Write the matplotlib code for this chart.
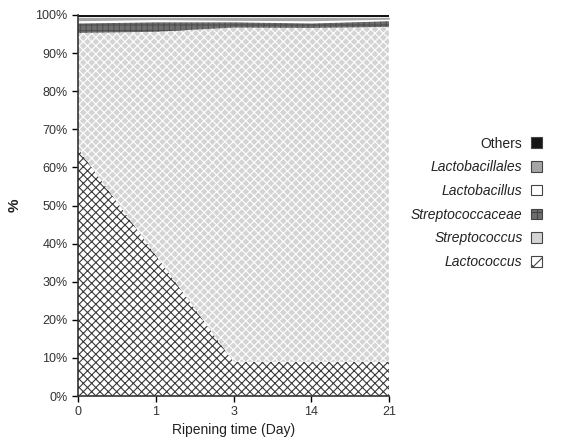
import matplotlib.pyplot as plt
from matplotlib.patches import Patch

plt.rcParams['font.family'] = ['Liberation Sans', 'DejaVu Sans']
plt.rcParams['hatch.linewidth'] = 0.8

# data (% relative abundance)
days = ['0', '1', '3', '14', '21']
lactococcus = [65.0, 37.0, 9.0, 9.0, 9.0]
streptococcus = [30.3, 58.6, 87.7, 87.6, 87.9]
streptococcaceae = [2.6, 2.6, 1.5, 1.3, 1.6]
lactobacillus = [0.6, 0.6, 0.4, 0.6, 0.4]
lactobacillales = [0.9, 0.6, 0.8, 0.9, 0.5]
others = [0.6, 0.6, 0.6, 0.6, 0.6]

names = ['Lactococcus', 'Streptococcus', 'Streptococcaceae',
         'Lactobacillus', 'Lactobacillales', 'Others']
series = [lactococcus, streptococcus, streptococcaceae,
          lactobacillus, lactobacillales, others]
faces = ['white', '#d4d4d4', '#6e6e6e', 'white', '#a6a6a6', '#151515']
hatch_cols = ['#3a3a3a', 'white', '#505050', 'white', '#a6a6a6', '#151515']
hatches = ['xxxx', 'xxxx', '+++', None, None, None]
leg_hatches = ['x', None, '++', None, None, None]

fig = plt.figure(figsize=(5.63, 4.41), dpi=100)
ax = fig.add_axes([0.1385, 0.102, 0.553, 0.864])

x = list(range(len(days)))
base = [0.0] * len(days)
for vals, fc, hc, h in zip(series, faces, hatch_cols, hatches):
    top = [b + v for b, v in zip(base, vals)]
    ax.fill_between(x, base, top, facecolor=fc, edgecolor=hc, hatch=h, linewidth=0)
    base = top

ax.set_xlim(0, 4)
ax.set_ylim(0, 100)
ax.set_xticks(x)
ax.set_xticklabels(days)
ax.set_yticks(range(0, 101, 10))
ax.set_yticklabels([f'{v}%' for v in range(0, 101, 10)])
ax.tick_params(labelsize=9, labelcolor='#333333', direction='out', length=4, width=1)
for s in ['top', 'right']:
    ax.spines[s].set_visible(False)
for s in ['left', 'bottom']:
    ax.spines[s].set_linewidth(1.2)
    ax.spines[s].set_color('#333333')

ax.set_xlabel('Ripening time (Day)', fontsize=10, color='#222222', labelpad=3)
ax.set_ylabel('%', fontsize=11, fontweight='bold', color='#222222', labelpad=10)

# legend, reversed order
handles = []
for name, fc, h in zip(names, faces, leg_hatches):
    handles.append(Patch(facecolor=fc, edgecolor='#444444', hatch=h, linewidth=0.8, label=name))
handles = handles[::-1]
leg = fig.legend(handles=handles, loc='center right', bbox_to_anchor=(0.985, 0.54),
                 frameon=False, markerfirst=False, fontsize=10,
                 handlelength=0.8, handleheight=0.8, labelspacing=0.7, handletextpad=0.6)
for t in leg.get_texts():
    t.set_color('#222222')
    if t.get_text() != 'Others':
        t.set_style('italic')

fig.savefig('out.png', dpi=100)
